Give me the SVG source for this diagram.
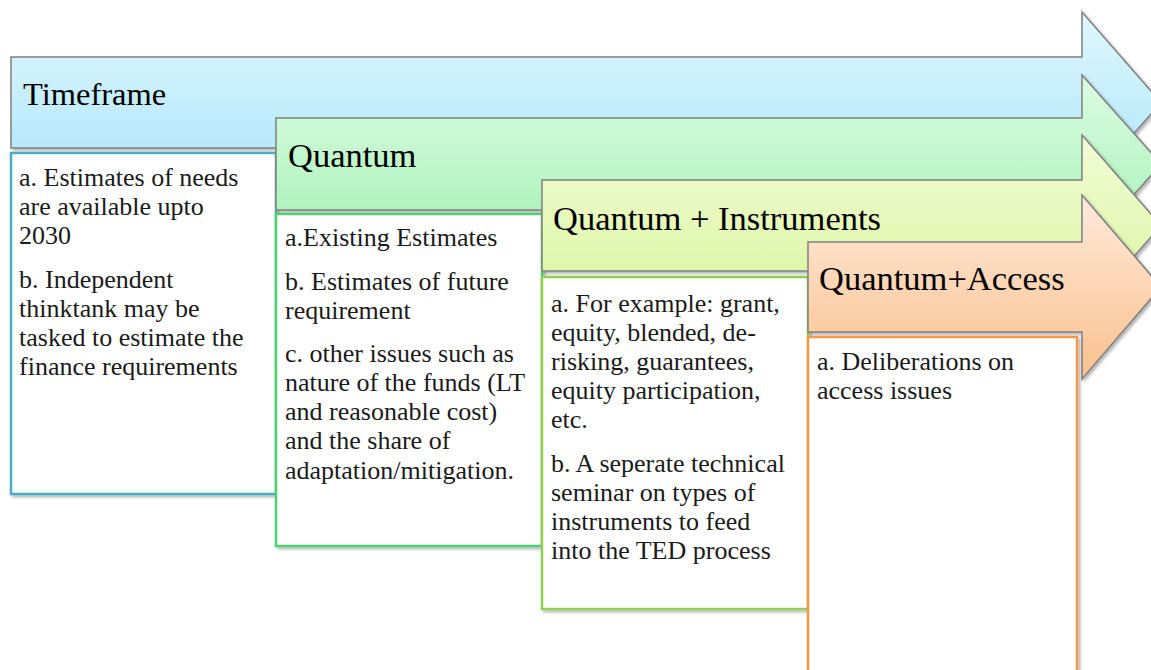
<svg xmlns="http://www.w3.org/2000/svg" width="1151" height="670" viewBox="0 0 1151 670">
<defs>
  <linearGradient id="gBlue" x1="0" y1="0" x2="0" y2="1"><stop offset="0" stop-color="#e0f7fe"/><stop offset="1" stop-color="#a9e4f9"/></linearGradient>
  <linearGradient id="gGreen" x1="0" y1="0" x2="0" y2="1"><stop offset="0" stop-color="#dcfce2"/><stop offset="1" stop-color="#a2f0b3"/></linearGradient>
  <linearGradient id="gLime" x1="0" y1="0" x2="0" y2="1"><stop offset="0" stop-color="#f2fcd6"/><stop offset="1" stop-color="#d8f49a"/></linearGradient>
  <linearGradient id="gOrange" x1="0" y1="0" x2="0" y2="1"><stop offset="0" stop-color="#feeadb"/><stop offset="1" stop-color="#fbc08c"/></linearGradient>
  <filter id="sh" x="-5%" y="-5%" width="115%" height="115%">
    <feDropShadow dx="2" dy="2" stdDeviation="1.5" flood-color="#000" flood-opacity="0.3"/>
  </filter>
</defs>
<style>
  .arrow { stroke: #808080; stroke-width: 1.5; filter: url(#sh); }
  .box { fill: #ffffff; stroke-width: 2.5; filter: url(#sh); }
  .title { font-family: "Liberation Serif", "Times New Roman", serif; font-size: 34.5px; fill: #000; }
  .title-sm { font-size: 32.5px; }
  .body { font-family: "Liberation Serif", "Times New Roman", serif; font-size: 26px; fill: #1a1a1a; }
</style>
<g id="connectors"></g>

<g id="timeframe">
  <path class="arrow" fill="url(#gBlue)" d="M11,57 H1082 V12 L1161,102.5 L1082,193 V148 H11 Z"/>
  <text class="title title-sm" x="23" y="105">Timeframe</text>
</g>
<g id="timeframe-box">
  <rect class="box" x="11" y="153" width="265" height="341" stroke="#4bacc6"/>
  <text class="body" x="19" y="186">a. Estimates of needs</text>
  <text class="body" x="19" y="215">are available upto</text>
  <text class="body" x="19" y="244">2030</text>
  <text class="body" x="19" y="288">b. Independent</text>
  <text class="body" x="19" y="317">thinktank may be</text>
  <text class="body" x="19" y="346">tasked to estimate the</text>
  <text class="body" x="19" y="375">finance requirements</text>
</g>

<g id="quantum">
  <path class="arrow" fill="url(#gGreen)" d="M276,118 H1082 V75 L1161,164 L1082,253 V210 H276 Z"/>
  <text class="title" x="288" y="167">Quantum</text>
</g>
<g id="quantum-box">
  <rect class="box" x="276" y="214" width="266" height="332" stroke="#4fd071"/>
  <text class="body" x="285" y="246">a.Existing Estimates</text>
  <text class="body" x="285" y="290">b. Estimates of future</text>
  <text class="body" x="285" y="319">requirement</text>
  <text class="body" x="285" y="362">c. other issues such as</text>
  <text class="body" x="285" y="391">nature of the funds (LT</text>
  <text class="body" x="285" y="420">and reasonable cost)</text>
  <text class="body" x="285" y="449">and the share of</text>
  <text class="body" x="285" y="479">adaptation/mitigation.</text>
</g>

<g id="quantum-instruments">
  <path class="arrow" fill="url(#gLime)" d="M542,180 H1082 V135 L1161,225.5 L1082,316 V271 H542 Z"/>
  <text class="title" x="553" y="230">Quantum + Instruments</text>
</g>
<g id="quantum-instruments-box">
  <rect class="box" x="542" y="277" width="266" height="332" stroke="#92d050"/>
  <text class="body" x="551" y="312">a. For example: grant,</text>
  <text class="body" x="551" y="341">equity, blended, de-</text>
  <text class="body" x="551" y="370">risking, guarantees,</text>
  <text class="body" x="551" y="399">equity participation,</text>
  <text class="body" x="551" y="428">etc.</text>
  <text class="body" x="551" y="472">b. A seperate technical</text>
  <text class="body" x="551" y="501">seminar on types of</text>
  <text class="body" x="551" y="530">instruments to feed</text>
  <text class="body" x="551" y="559">into the TED process</text>
</g>

<g id="quantum-access">
  <path class="arrow" fill="url(#gOrange)" d="M808,242 H1082 V195 L1161,287 L1082,379 V332 H808 Z"/>
  <text class="title" x="819" y="290">Quantum+Access</text>
</g>
<g id="quantum-access-box">
  <rect class="box" x="808" y="337" width="269" height="345" stroke="#f79646"/>
  <text class="body" x="817" y="370">a. Deliberations on</text>
  <text class="body" x="817" y="399">access issues</text>
</g>
</svg>
